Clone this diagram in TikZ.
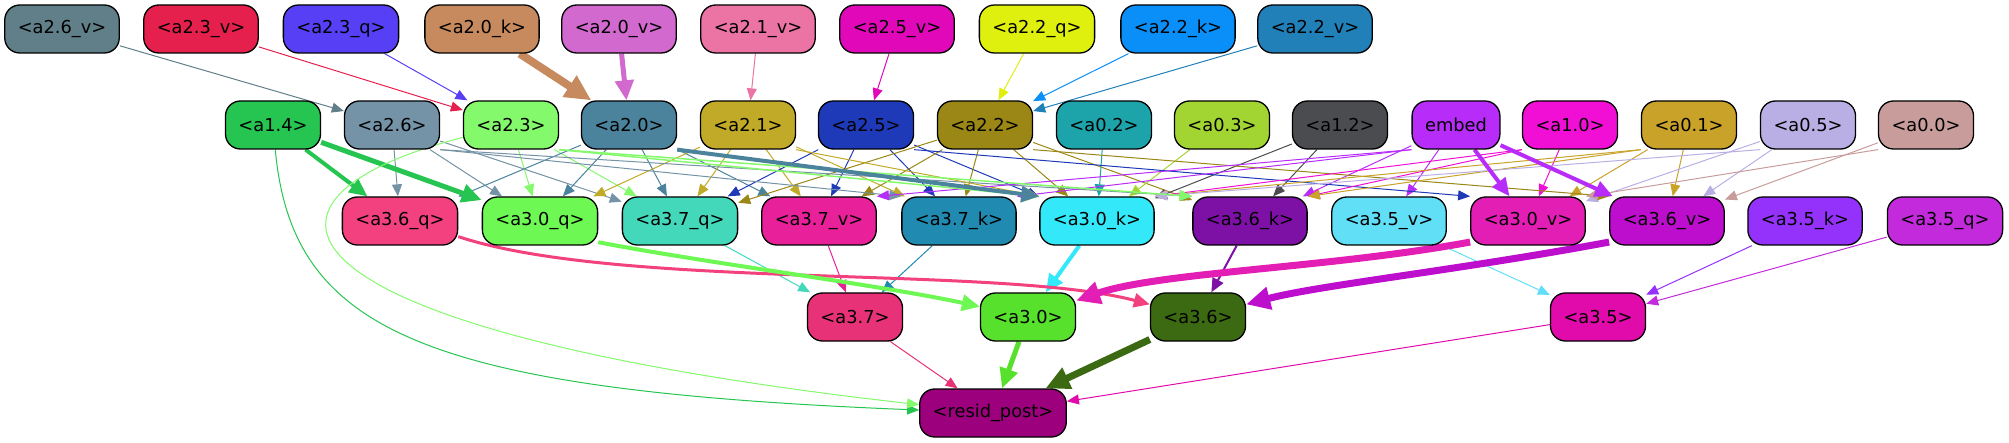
\documentclass[tikz,border=0pt]{standalone}
\usepackage{fontspec}
\setmainfont{DejaVu Sans}
\usetikzlibrary{arrows.meta}
\pgfdeclarelayer{back}
\pgfsetlayers{back,main}

\definecolor{a26v}{HTML}{617F88}
\definecolor{a23v}{HTML}{E6204D}
\definecolor{a23q}{HTML}{563FF5}
\definecolor{a20k}{HTML}{C78A5F}
\definecolor{a20v}{HTML}{D269CE}
\definecolor{a21v}{HTML}{EC74A4}
\definecolor{a25v}{HTML}{E008B8}
\definecolor{a22q}{HTML}{DFF00F}
\definecolor{a22k}{HTML}{0A8FF8}
\definecolor{a22v}{HTML}{2180B8}
\definecolor{a14}{HTML}{26C450}
\definecolor{a26}{HTML}{7593A6}
\definecolor{a23}{HTML}{84F96B}
\definecolor{a20}{HTML}{4B839C}
\definecolor{a21}{HTML}{C0AA27}
\definecolor{a25}{HTML}{1F3AB8}
\definecolor{a22}{HTML}{9A8716}
\definecolor{a02}{HTML}{1DA3AA}
\definecolor{a03}{HTML}{A3D532}
\definecolor{a12}{HTML}{4B4C4F}
\definecolor{embed}{HTML}{B82CFA}
\definecolor{a10}{HTML}{F10FD5}
\definecolor{a01}{HTML}{C9A22A}
\definecolor{a05}{HTML}{BAAFE4}
\definecolor{a00}{HTML}{C89C9B}
\definecolor{a36q}{HTML}{F2417E}
\definecolor{a30q}{HTML}{6DF853}
\definecolor{a37q}{HTML}{44D8BA}
\definecolor{a37v}{HTML}{E8219A}
\definecolor{a37k}{HTML}{218AB0}
\definecolor{a30k}{HTML}{33E9F9}
\definecolor{a36k}{HTML}{7D11A6}
\definecolor{a35v}{HTML}{61DFF6}
\definecolor{a30v}{HTML}{E21EB5}
\definecolor{a36v}{HTML}{BC0ECC}
\definecolor{a35k}{HTML}{9431FA}
\definecolor{a35q}{HTML}{C22ADC}
\definecolor{a37}{HTML}{E73277}
\definecolor{a30}{HTML}{57E02C}
\definecolor{a36}{HTML}{3C6A13}
\definecolor{a35}{HTML}{E10AAA}
\definecolor{resid}{HTML}{9C007D}

\tikzset{
  box/.style={draw=black, line width=1.3pt, rounded corners=15pt, minimum height=48pt,
    inner xsep=13pt, text=black, font=\fontsize{17.8pt}{20pt}\selectfont},
  link/.style={-{Triangle[length=10pt 2, width=8pt 2]}, line width=1pt},
}

\begin{document}
\begin{tikzpicture}[x=1pt,y=-1pt]
\useasboundingbox (0,0) rectangle (2009,443);

% rows of nodes
\foreach \nm/\txt/\x in {a26v/a2.6\_v/62, a23v/a2.3\_v/201, a23q/a2.3\_q/341, a20k/a2.0\_k/482, a20v/a2.0\_v/619, a21v/a2.1\_v/758, a25v/a2.5\_v/897, a22q/a2.2\_q/1037, a22k/a2.2\_k/1178, a22v/a2.2\_v/1315}
\node[box, fill=\nm] (\nm) at (\x,29) {<\txt>};
\foreach \nm/\txt/\x in {a14/a1.4/273, a26/a2.6/392, a23/a2.3/511, a20/a2.0/629, a21/a2.1/748, a25/a2.5/866, a22/a2.2/985, a02/a0.2/1104, a03/a0.3/1222, a12/a1.2/1340, a10/a1.0/1570, a01/a0.1/1689, a05/a0.5/1808, a00/a0.0/1926}
\node[box, fill=\nm] (\nm) at (\x,125) {<\txt>};
\node[box, fill=embed] (embed) at (1456,125) {embed};
\foreach \nm/\txt/\x in {a36q/a3.6\_q/400, a30q/a3.0\_q/540, a37q/a3.7\_q/680, a37v/a3.7\_v/819, a37k/a3.7\_k/959, a30k/a3.0\_k/1097, a36k/a3.6\_k/1250, a35v/a3.5\_v/1389, a30v/a3.0\_v/1528, a36v/a3.6\_v/1667, a35k/a3.5\_k/1805, a35q/a3.5\_q/1945}
\node[box, fill=\nm] (\nm) at (\x,221) {<\txt>};
\foreach \nm/\txt/\x in {a37/a3.7/855, a30/a3.0/1028, a36/a3.6/1198, a35/a3.5/1598}
\node[box, fill=\nm] (\nm) at (\x,317) {<\txt>};
\node[box, fill=resid] (resid) at (993,413) {<resid\_post>};

\begin{pgfonlayer}{back}
% straight links
\foreach \s/\t in {a26v/a26, a23v/a23, a23q/a23, a21v/a21, a25v/a25, a22q/a22, a22k/a22, a22v/a22,
  a26/a36q, a26/a30q, a26/a37q, a23/a30q, a23/a37q, a20/a36q, a20/a30q, a20/a37q, a20/a37v,
  a21/a37q, a21/a30q, a21/a37v, a21/a37k, a25/a37q, a25/a37v, a25/a37k, a25/a30k,
  a22/a37q, a22/a37v, a22/a37k, a22/a30k, a22/a36k, a02/a30k, a03/a30k, a12/a30k, a12/a36k,
  embed/a36k, embed/a35v, a10/a30v, a01/a30v, a01/a36v, a05/a30v, a05/a36v, a00/a36v,
  a37q/a37, a37v/a37, a37k/a37, a35v/a35, a35k/a35, a35q/a35, a37/resid, a35/resid}
\draw[link, color=\s] (\s) -- (\t);
% long links to the right
\foreach \s/\t in {a26/a37k, a26/a36k, a21/a30k, a25/a30v, a22/a36v}
\draw[link, color=\s] (\s.south east) -- (\t.north west);
% long links to the left
\foreach \s/\t in {embed/a37v, embed/a37k, a10/a30k, a10/a36k, a01/a30k, a01/a36k, a05/a30k, a00/a30v}
\draw[link, color=\s] (\s.south west) -- (\t.north east);
\draw[link, line width=1.5pt, color=a23] (a23.south east) -- (a30k.north west);
\draw[link, line width=1.5pt, color=a23] (a23.south east) -- (a36k.north west);
% heavy links
\draw[link, line width=8pt, color=a20k] (a20k) -- (a20);
\draw[link, line width=5pt, color=a20v] (a20v) -- (a20);
\draw[link, line width=4pt, color=a14] (a14) -- (a36q);
\draw[link, line width=5pt, color=a14] (a14) -- (a30q);
\draw[link, line width=4pt, color=a20] (a20.south east) -- (a30k.north west);
\draw[link, line width=4pt, color=embed] (embed) -- (a30v);
\draw[link, line width=4pt, color=embed] (embed) -- (a36v);
\draw[link, line width=4pt, color=a30k] (a30k) -- (a30);
\draw[link, line width=2pt, color=a36k] (a36k) -- (a36);
\draw[link, line width=5pt, color=a30] (a30) -- (resid);
\draw[link, line width=7pt, color=a36] (a36) -- (resid);
% curved links
\draw[link, line width=3pt, color=a36q] (a36q.-15) .. controls (620,290) and (1000,265) .. (a36);
\draw[link, line width=4pt, color=a30q] (a30q.-20) .. controls (700,262) and (880,285) .. (a30);
\draw[link, line width=7pt, color=a30v] (a30v.200) .. controls (1330,268) and (1160,272) .. (a30);
\draw[link, line width=7pt, color=a36v] (a36v.200) .. controls (1460,270) and (1320,285) .. (a36);
\draw[link, color=a14] (a14) .. controls (292,330) and (420,390) .. (resid);
\draw[link, color=a23] (a23) .. controls (220,200) and (260,330) .. (resid);
\end{pgfonlayer}

\end{tikzpicture}
\end{document}
